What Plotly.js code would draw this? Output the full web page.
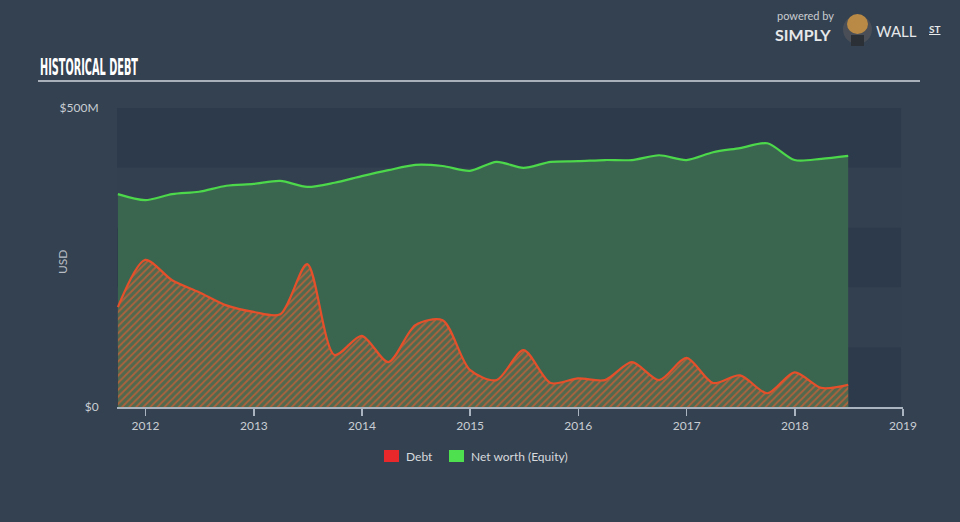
<!DOCTYPE html>
<html>
<head>
<meta charset="utf-8">
<script src="https://cdn.plot.ly/plotly-3.0.1.min.js"></script>
<style>
html,body{margin:0;padding:0;background:#344150;}
#chart{width:960px;height:522px;}
</style>
</head>
<body>
<div id="chart"></div>
<script>
// Quarterly dates
var dates = ['2011-09-30','2011-12-31','2012-03-31','2012-06-30','2012-09-30','2012-12-31',
  '2013-03-31','2013-06-30','2013-09-30','2013-12-31','2014-03-31','2014-06-30','2014-09-30',
  '2014-12-31','2015-03-31','2015-06-30','2015-09-30','2015-12-31','2016-03-31','2016-06-30',
  '2016-09-30','2016-12-31','2017-03-31','2017-06-30','2017-09-30','2017-12-31','2018-03-31','2018-06-30'];
// Values in $M
var debt = [167,246,212,192,170,159,155,239,87,119,75,137,145,62,45,95,40,48,45,75,45,82,40,53,23,58,32,37];
var equity = [356,346,356,360,370,373,378,368,375,386,396,405,403,395,410,400,410,411,413,413,421,413,426,433,441,413,415,420];
var yTickVals = [0,500];
var yTickText = ['$0','$500M'];
var xTickVals = ['2012-01-01','2013-01-01','2014-01-01','2015-01-01','2016-01-01','2017-01-01','2018-01-01','2019-01-01'];
var xTickText = ['2012','2013','2014','2015','2016','2017','2018','2019'];
var legendNames = ['Debt','Net worth (Equity)'];
var legendColors = ['#e8282a','#4fe04f'];
var bandStarts = [0,200,400];

var font = 'Lato, "Open Sans", sans-serif';
function px(x){ return (x-117)/786; }
function py(y){ return (407-y)/299; }

var traces = [
  {x: dates, y: equity, type:'scatter', mode:'lines', name:legendNames[1], showlegend:false,
   line:{color:'#4cd84a', width:2.2, shape:'spline', smoothing:0.8},
   fill:'tozeroy', fillcolor:'#3a6650', hoverinfo:'skip'},
  {x: dates, y: debt, type:'scatter', mode:'lines', name:legendNames[0], showlegend:false,
   line:{color:'#e5502b', width:2.2, shape:'spline', smoothing:0.8},
   fill:'tozeroy',
   fillpattern:{shape:'/', fgcolor:'#ad623d', bgcolor:'#52694e', size:5, solidity:0.36},
   hoverinfo:'skip'}
];

var shapes = [];
bandStarts.forEach(function(b){
  shapes.push({type:'rect', xref:'paper', yref:'y', x0:0, x1:0.9975, y0:b, y1:b+100,
    fillcolor:'#2d3a4b', line:{width:0}, layer:'below'});
});
bandStarts.slice(0,2).forEach(function(b){
  shapes.push({type:'rect', xref:'paper', yref:'y', x0:0, x1:0.9975, y0:b+100, y1:b+200,
    fillcolor:'#334050', line:{width:0}, layer:'below'});
});
// title underline
shapes.push({type:'line', xref:'paper', yref:'paper', x0:px(38), x1:px(920), y0:py(81), y1:py(81),
  line:{color:'#a9b0b9', width:2}});
// logo
shapes.push({type:'circle', xref:'paper', yref:'paper', x0:px(843), x1:px(872),
  y0:py(44), y1:py(15), fillcolor:'#4a4f57', line:{width:0}});
shapes.push({type:'circle', xref:'paper', yref:'paper', x0:px(847), x1:px(868),
  y0:py(34), y1:py(14), fillcolor:'#b98a45', line:{width:0}});
shapes.push({type:'rect', xref:'paper', yref:'paper', x0:px(851), x1:px(864),
  y0:py(46), y1:py(35), fillcolor:'#2b2f36', line:{width:0}});

var annotations = [
  {text:'<b>HISTORICAL DEBT</b>', xref:'paper', yref:'paper', x:px(38), y:py(67),
   xanchor:'left', yanchor:'middle', showarrow:false,
   font:{family:'"DejaVu Sans Condensed","DejaVu Sans",sans-serif', size:23, color:'#ffffff'}},
  {text:'USD', xref:'paper', yref:'paper', x:px(62), y:py(262), textangle:-90,
   showarrow:false, xanchor:'center', yanchor:'middle', font:{family:font, size:12, color:'#b9bec6'}},
  {text:'powered by', xref:'paper', yref:'paper', x:px(776), y:py(23), xanchor:'left', yanchor:'bottom',
   showarrow:false, borderpad:0, font:{family:font, size:11, color:'#c9ccd1'}},
  {text:'<b>SIMPLY</b>', xref:'paper', yref:'paper', x:px(774), y:py(24), xanchor:'left', yanchor:'top',
   showarrow:false, borderpad:0, font:{family:font, size:16, color:'#e6e8ea'}},
  {text:'WALL', xref:'paper', yref:'paper', x:px(874), y:py(31), xanchor:'left', yanchor:'middle',
   showarrow:false, font:{family:font, size:15, color:'#e6e8ea'}},
  {text:'<u><b>ST</b></u>', xref:'paper', yref:'paper', x:px(927), y:py(29), xanchor:'left', yanchor:'middle',
   showarrow:false, font:{family:font, size:10, color:'#e6e8ea'}}
];

// custom legend
var legX = [384, 449];
var legTextX = [405, 470];
legendNames.forEach(function(n, i){
  shapes.push({type:'rect', xref:'paper', yref:'paper', x0:px(legX[i]), x1:px(legX[i]+15),
    y0:py(462), y1:py(450), fillcolor:legendColors[i], line:{width:0}});
  annotations.push({text:n, xref:'paper', yref:'paper', x:px(legTextX[i]), y:py(456.5),
    xanchor:'left', yanchor:'middle', showarrow:false, borderpad:0,
    font:{family:font, size:12, color:'#d7dade'}});
});

var layout = {
  width:960, height:522,
  paper_bgcolor:'#344150', plot_bgcolor:'rgba(0,0,0,0)',
  margin:{l:117, r:57, t:108, b:115},
  showlegend:false,
  xaxis:{type:'date', range:['2011-09-27','2019-01-01'], tickvals:xTickVals, ticktext:xTickText,
    showgrid:false, zeroline:false, showline:true, linecolor:'#a9b4c0', linewidth:1.5,
    ticks:'outside', ticklen:7, tickcolor:'#a9b4c0', tickwidth:1.5,
    tickfont:{family:font, size:12, color:'#c9ced4'}, fixedrange:true},
  yaxis:{range:[0,500], tickvals:yTickVals, ticktext:yTickText, showgrid:false, zeroline:false,
    showline:false, ticks:'outside', ticklen:15, tickcolor:'rgba(0,0,0,0)',
    tickfont:{family:font, size:12, color:'#c9ced4'}, fixedrange:true},
  shapes:shapes,
  annotations:annotations
};

Plotly.newPlot('chart', traces, layout, {staticPlot:true, displayModeBar:false}).then(function(){
  // condense the title horizontally to mimic the narrow display face
  var t = document.querySelector('.annotation[data-index="0"] text');
  if (t) {
    var bb = t.getBBox();
    var sx = 98 / bb.width;
    var x0 = bb.x;
    t.setAttribute('transform', 'translate(' + x0 + ',0) scale(' + sx + ',1) translate(' + (-x0) + ',0)');
  }
});
</script>
</body>
</html>
